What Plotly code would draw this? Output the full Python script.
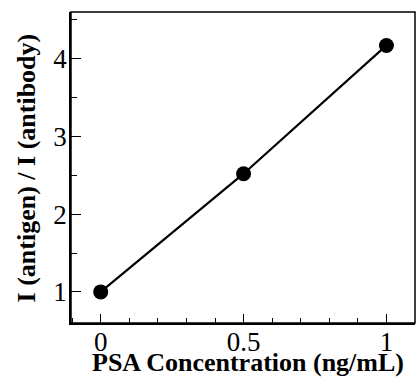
import plotly.graph_objects as go

# PSA concentration (ng/mL) and the antigen/antibody intensity ratio
psa_conc = [0, 0.5, 1]
intensity_ratio = [1.0, 2.52, 4.17]

x_tickvals = [0, 0.5, 1]
x_ticktext = ["0", "0.5", "1"]
y_tickvals = [1, 2, 3, 4]
y_ticktext = ["1", "2", "3", "4"]

x_title = "PSA Concentration (ng/mL)"
y_title = "I (antigen) / I (antibody)"

serif = "Liberation Serif, Times New Roman, serif"

fig = go.Figure()
fig.add_trace(go.Scatter(
    x=psa_conc,
    y=intensity_ratio,
    mode="lines+markers",
    line=dict(color="black", width=2.2),
    marker=dict(color="black", size=15),
    showlegend=False,
))

axis_common = dict(
    showgrid=False,
    zeroline=False,
    showline=True,
    linecolor="black",
    linewidth=1.5,
    mirror=False,
    ticks="inside",
    tickcolor="black",
    tickwidth=1.2,
    tickfont=dict(family=serif, size=27, color="black"),
)

fig.update_xaxes(
    **axis_common,
    range=[-0.104, 1.1],
    tickvals=x_tickvals,
    ticktext=x_ticktext,
    ticklen=9,
    ticklabelstandoff=-6,
    minor=dict(ticks="inside", dtick=0.1, tick0=0, ticklen=5, tickcolor="black", tickwidth=1.2),
)
fig.update_yaxes(
    **axis_common,
    range=[0.6, 4.6],
    tickvals=y_tickvals,
    ticktext=y_ticktext,
    ticklen=10,
    ticklabelstandoff=-3,
    minor=dict(ticks="inside", dtick=0.5, tick0=0, ticklen=6, tickcolor="black", tickwidth=1.2),
)

# plain frame on the top and right sides (no ticks there)
fig.add_shape(
    type="rect", xref="paper", yref="paper", x0=0, y0=0, x1=1, y1=1,
    line=dict(color="black", width=1.5), fillcolor="rgba(0,0,0,0)", layer="above",
)

# axis titles
title_font = dict(family=serif, size=26, color="black")
fig.add_annotation(
    text=f"<b>{x_title}</b>", xref="paper", yref="paper",
    x=0.515, y=-0.128, xanchor="center", yanchor="middle",
    showarrow=False, font=title_font,
)
fig.add_annotation(
    text=f"<b>{y_title}</b>", xref="paper", yref="paper",
    x=-0.128, y=0.50, xanchor="center", yanchor="middle",
    textangle=-90, showarrow=False, font=title_font,
)

fig.update_layout(
    width=419,
    height=378,
    margin=dict(l=71, r=4, t=12, b=55),
    plot_bgcolor="white",
    paper_bgcolor="white",
)

fig.write_html("out.html")
